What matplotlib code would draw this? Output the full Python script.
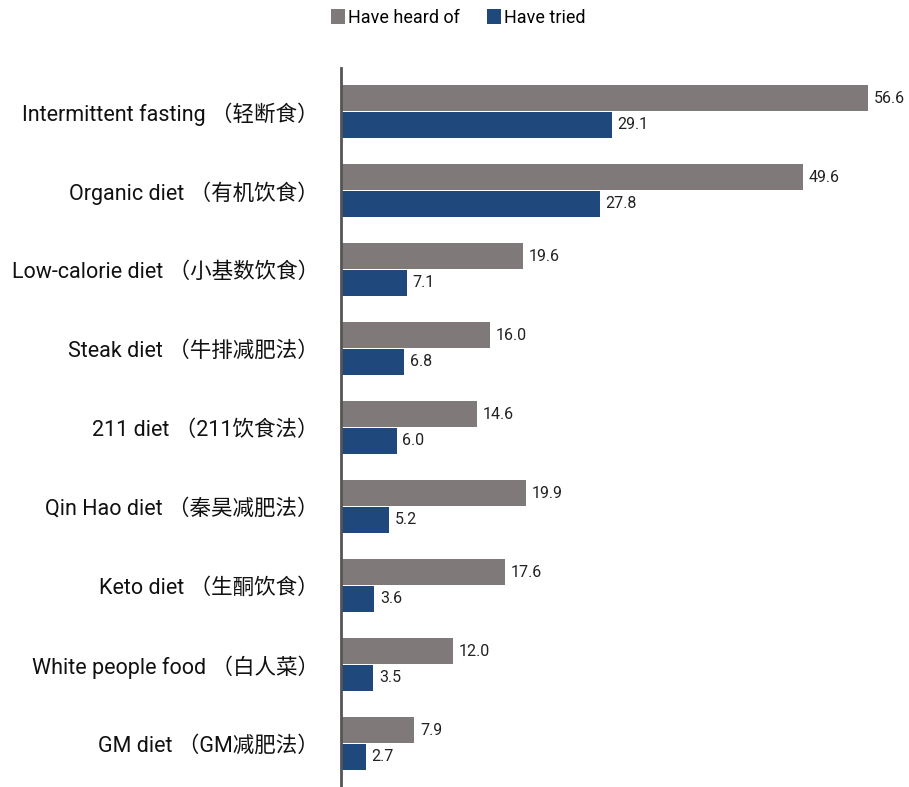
import matplotlib
matplotlib.use("Agg")
import matplotlib.pyplot as plt
import numpy as np

plt.rcParams['font.family'] = ['Roboto', 'Noto Sans CJK SC', 'DejaVu Sans']

# data
categories = [
    "Intermittent fasting （轻断食）",
    "Organic diet （有机饮食）",
    "Low-calorie diet （小基数饮食）",
    "Steak diet （牛排减肥法）",
    "211 diet （211饮食法）",
    "Qin Hao diet （秦昊减肥法）",
    "Keto diet （生酮饮食）",
    "White people food （白人菜）",
    "GM diet （GM减肥法）",
]
heard = [56.6, 49.6, 19.6, 16.0, 14.6, 19.9, 17.6, 12.0, 7.9]
tried = [29.1, 27.8, 7.1, 6.8, 6.0, 5.2, 3.6, 3.5, 2.7]

grey = '#7f7a79'
blue = '#1f497d'

fig = plt.figure(figsize=(9.09, 7.87), dpi=100)
ax = fig.add_axes([0.375, 0.0, 0.615, 0.9136])

y = np.arange(len(categories))
h = 0.325
b1 = ax.barh(y - h / 2 - 0.005, heard, height=h, color=grey, label='Have heard of')
b2 = ax.barh(y + h / 2 + 0.005, tried, height=h, color=blue, label='Have tried')

for bars, vals in [(b1, heard), (b2, tried)]:
    for bar, v in zip(bars, vals):
        ax.text(bar.get_width() + 0.6, bar.get_y() + bar.get_height() / 2,
                f'{v:.1f}', va='center', ha='left', fontsize=11.5, color='#222222')

ax.set_yticks(y)
ax.set_yticklabels(categories, fontsize=15.5, color='#111111')
ax.tick_params(axis='y', length=0, pad=16)
ax.set_xticks([])
ax.set_xlim(0, 60)
ax.set_ylim(len(categories) - 0.45, -0.55)

for s in ['top', 'right', 'bottom']:
    ax.spines[s].set_visible(False)
ax.spines['left'].set_color('#555555')
ax.spines['left'].set_linewidth(2)

fig.legend(handles=[b1, b2], loc='center', bbox_to_anchor=(0.504, 0.977), ncol=2,
           frameon=False, fontsize=13, handlelength=0.8, handleheight=0.9,
           handletextpad=0.15, columnspacing=1.5)

fig.savefig('out.png', dpi=100)
